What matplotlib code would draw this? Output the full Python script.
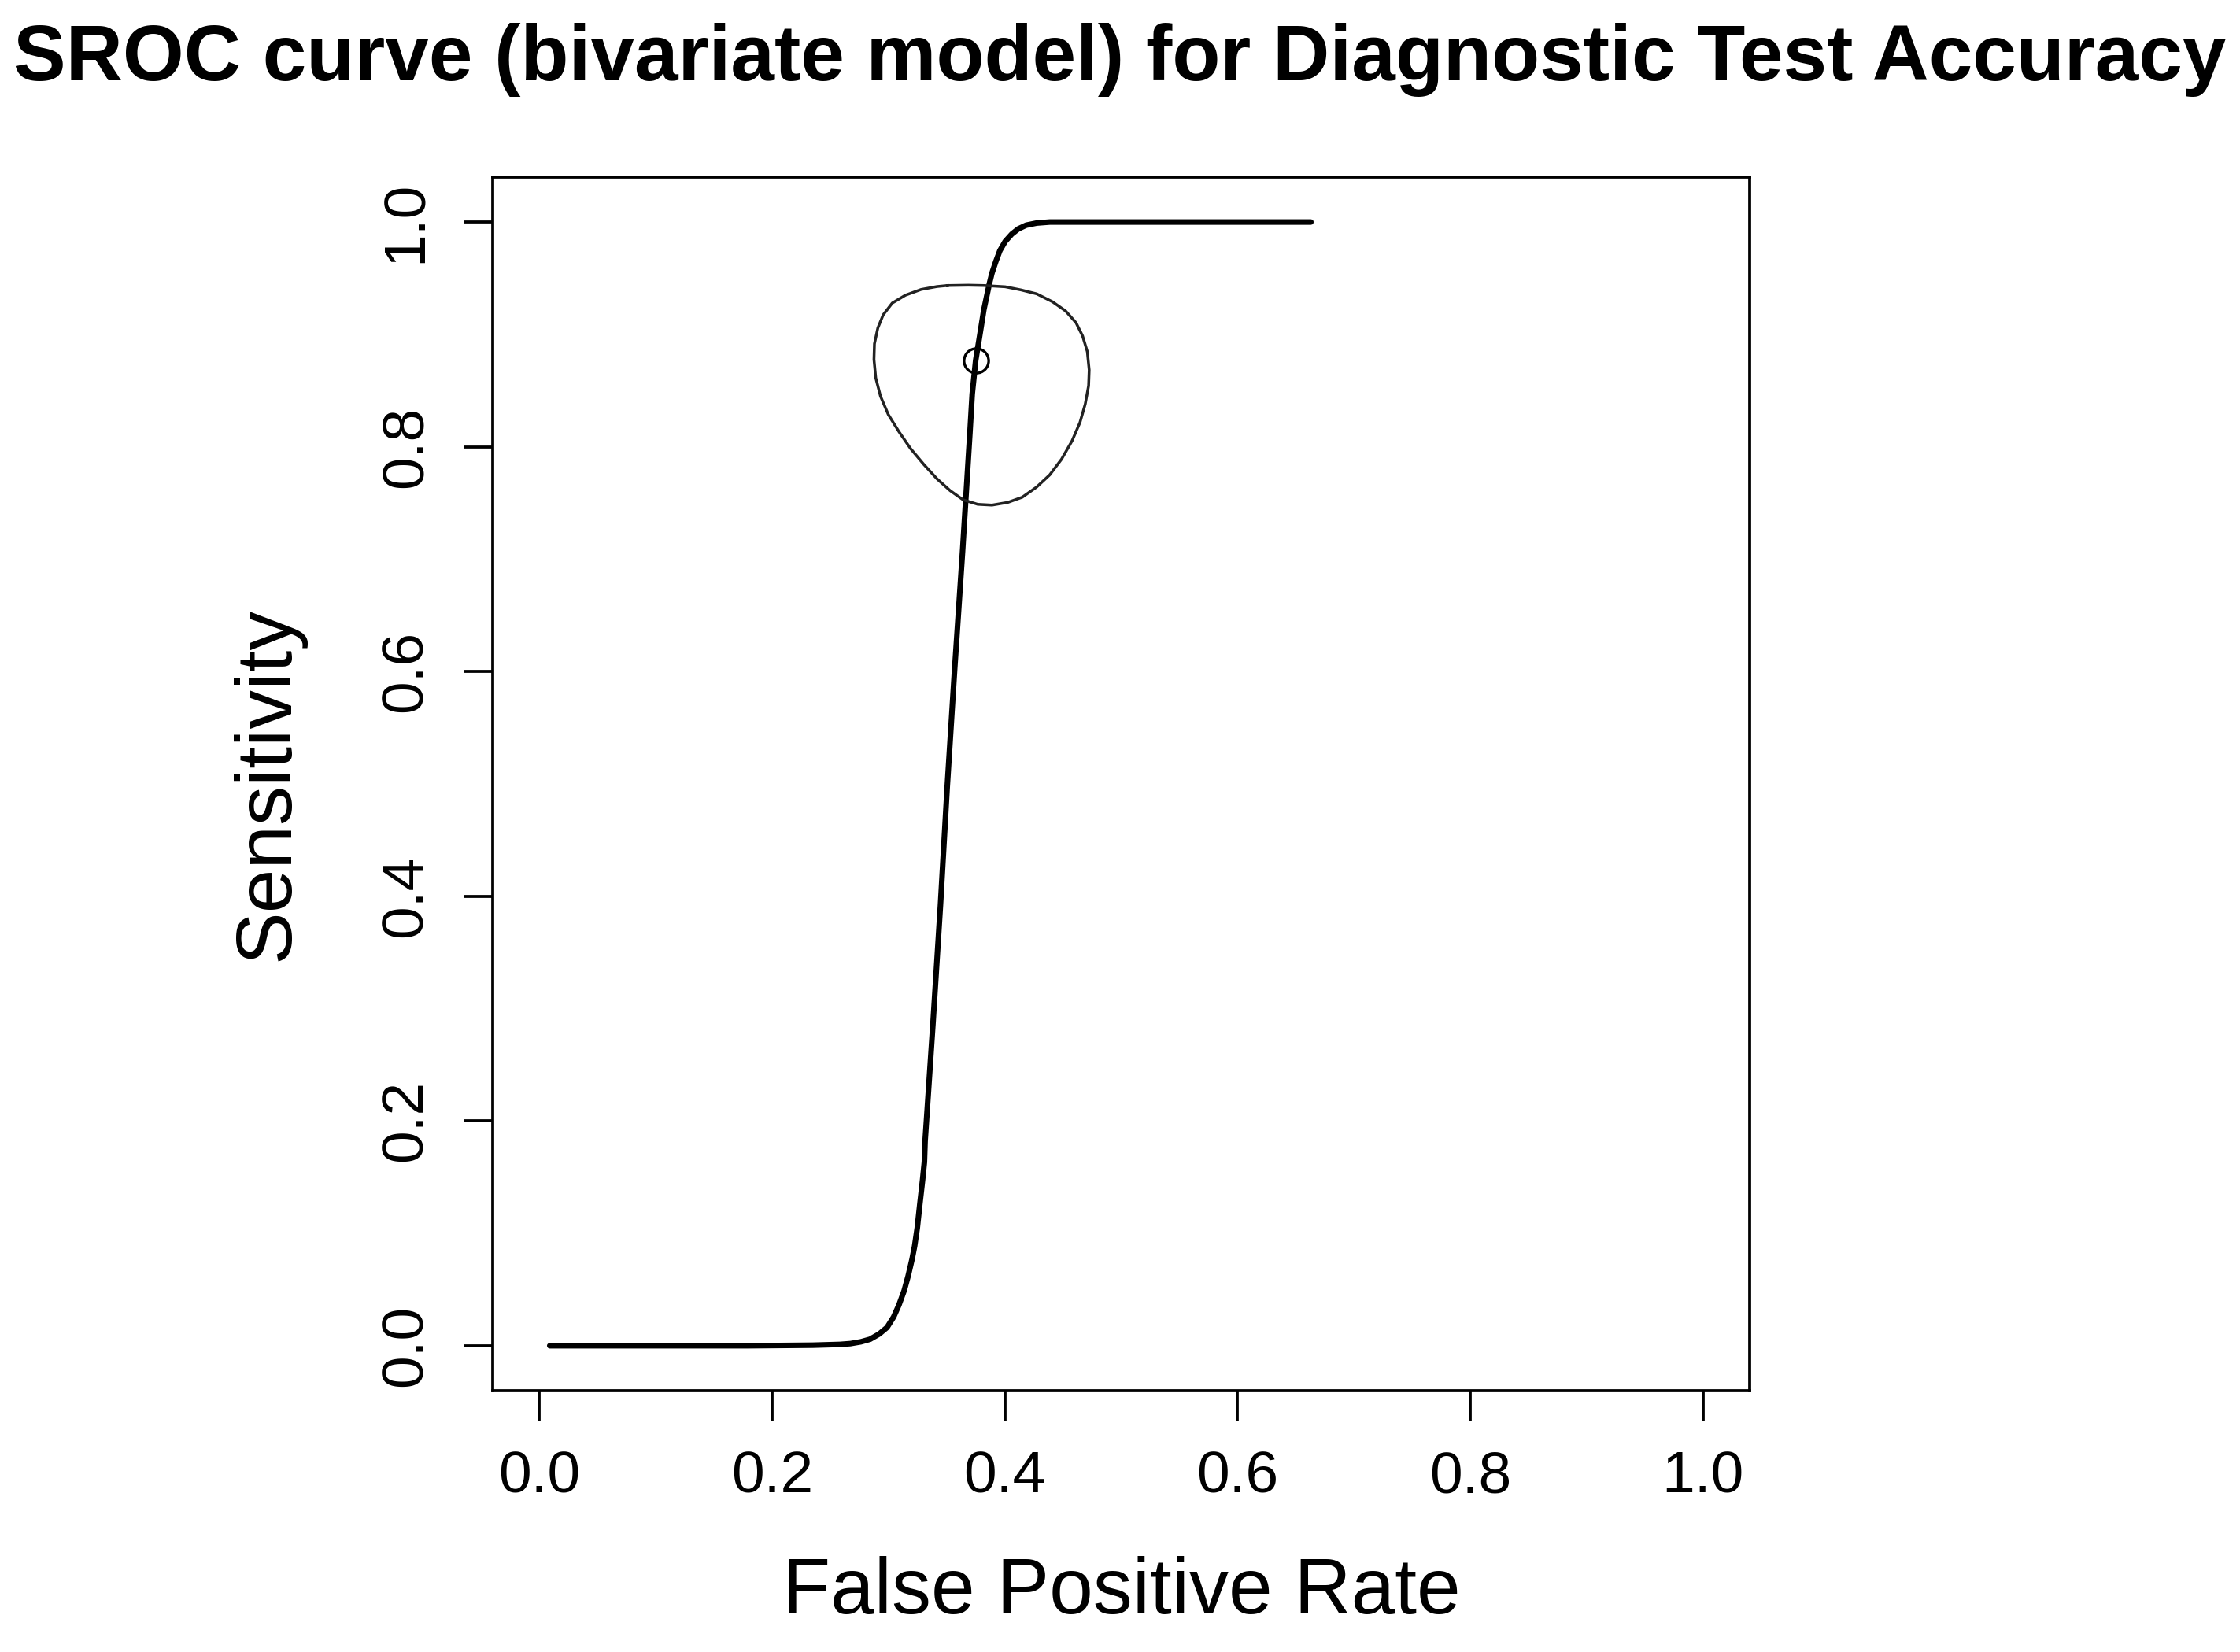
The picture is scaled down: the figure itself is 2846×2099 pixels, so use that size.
import matplotlib
matplotlib.use('Agg')
import matplotlib.pyplot as plt

plt.rcParams['font.family'] = ['Liberation Sans', 'DejaVu Sans']

# SROC curve (false positive rate, sensitivity)
sroc_fpr = [0.009, 0.179, 0.235, 0.2583, 0.2673, 0.2763, 0.2842, 0.2921, 0.2988, 0.3045,
            0.3090, 0.3135, 0.3169, 0.3203, 0.3225, 0.3248, 0.3270, 0.3293, 0.3309, 0.3315,
            0.3383, 0.3447, 0.3505, 0.3569, 0.3637, 0.370, 0.372, 0.375, 0.378, 0.382,
            0.3868, 0.3890, 0.3924, 0.3958, 0.4003, 0.4060, 0.4116, 0.4184, 0.4274, 0.4387,
            0.663]
sroc_sens = [0.0, 0.0, 0.0005, 0.0012, 0.0019, 0.0035, 0.0058, 0.0105, 0.0163, 0.0257,
             0.0362, 0.0490, 0.0619, 0.0770, 0.0887, 0.1050, 0.1261, 0.1471, 0.1634, 0.182,
             0.287, 0.392, 0.497, 0.602, 0.707, 0.812, 0.847, 0.877, 0.896, 0.922,
             0.9454, 0.9547, 0.9652, 0.9746, 0.9827, 0.9893, 0.9939, 0.9972, 0.9991, 1.0,
             1.0]

# confidence region around the summary point
region_fpr = [0.3507, 0.3687, 0.3823, 0.4003, 0.4139, 0.4274, 0.4409, 0.4522, 0.4612, 0.4668,
              0.4709, 0.4725, 0.4720, 0.4691, 0.4646, 0.4578, 0.4488, 0.4386, 0.4274, 0.4150,
              0.4026, 0.3890, 0.3767, 0.3642, 0.3530, 0.3417, 0.3304, 0.3191, 0.3090, 0.2999,
              0.2932, 0.2891, 0.2876, 0.2880, 0.2909, 0.2955, 0.3033, 0.3146, 0.3281, 0.3417,
              0.3507]
region_sens = [0.9435, 0.9438, 0.9435, 0.9424, 0.9396, 0.9361, 0.9291, 0.9209, 0.9104, 0.8987,
               0.8847, 0.8683, 0.8543, 0.8380, 0.8217, 0.8053, 0.7890, 0.7750, 0.7642, 0.7551,
               0.7505, 0.7481, 0.7488, 0.7528, 0.7610, 0.7715, 0.7843, 0.7983, 0.8135, 0.8287,
               0.8450, 0.8613, 0.8777, 0.8917, 0.9057, 0.9174, 0.9279, 0.9349, 0.9400, 0.9426,
               0.9435]

# summary estimate
summary_fpr = [0.375]
summary_sens = [0.877]

ticks = [0.0, 0.2, 0.4, 0.6, 0.8, 1.0]
tick_labels = ['0.0', '0.2', '0.4', '0.6', '0.8', '1.0']

fig = plt.figure(figsize=(2846 / 300, 2099 / 300), dpi=300)
ax = fig.add_axes([0.21996, 0.15817, 0.56114, 0.73464])

ax.plot(sroc_fpr, sroc_sens, color='black', lw=1.7, solid_capstyle='round',
        solid_joinstyle='round')
ax.plot(region_fpr, region_sens, color='#222222', lw=0.85, solid_joinstyle='round')
ax.plot(summary_fpr, summary_sens, 'o', ms=7.5, mfc='none', mec='black', mew=0.8)

ax.set_xlim(-0.04, 1.04)
ax.set_ylim(-0.04, 1.04)
ax.set_xticks(ticks)
ax.set_xticklabels(tick_labels)
ax.set_yticks(ticks)
ax.set_yticklabels(tick_labels, rotation=90, va='center')
ax.tick_params(direction='out', length=9, width=0.9, labelsize=18, pad=9, colors='black')

for s in ax.spines.values():
    s.set_linewidth(0.9)
    s.set_color('black')

ax.set_xlabel('False Positive Rate', fontsize=24, va='center')
ax.xaxis.set_label_coords(0.5, -0.1667)
ax.set_ylabel('Sensitivity', fontsize=24, va='center')
ax.yaxis.set_label_coords(-0.1785, 0.5)

fig.text(0.5, 0.9638, 'SROC curve (bivariate model) for Diagnostic Test Accuracy',
         ha='center', va='center', fontsize=24, fontweight='bold')

fig.savefig('out.png', dpi=300, facecolor='white')
